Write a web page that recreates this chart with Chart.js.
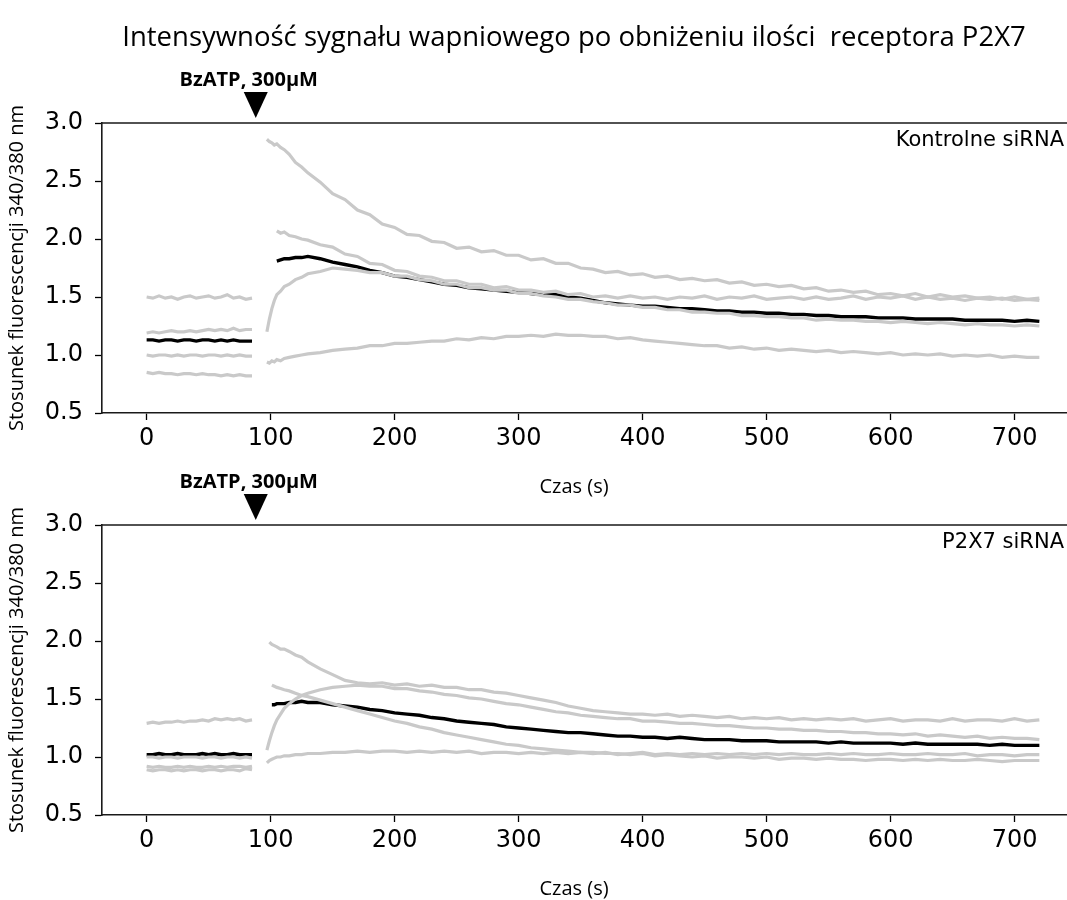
<!DOCTYPE html>
<html lang="pl">
  <head>
    <meta charset="UTF-8" />
    <title>Intensywność sygnału wapniowego</title>
    <style>
      html, body { margin: 0; padding: 0; background: #fff; overflow: hidden; }
      .wrap { position: relative; width: 1067px; height: 900px; overflow: hidden; }
      canvas { position: absolute; left: 0; }
      #top { top: 0; }
      #bottom { top: 400px; }
    </style>
    <script src="https://cdn.jsdelivr.net/npm/chart.js"></script>
    <script>
      // czas (s) - linia bazowa i odpowiedź po BzATP
      const BASE_T = [0, 5, 10, 15, 20, 25, 30, 35, 40, 45, 50, 55, 60, 65, 70, 75, 80, 85];
      const RESP_T = [97, 99, 101, 103, 105, 108, 111, 115, 120, 125,
        130, 140, 150, 160, 170, 180, 190, 200, 210, 220,
        230, 240, 250, 260, 270, 280, 290, 300, 310, 320,
        330, 340, 350, 360, 370, 380, 390, 400, 410, 420,
        430, 440, 450, 460, 470, 480, 490, 500, 510, 520,
        530, 540, 550, 560, 570, 580, 590, 600, 610, 620,
        630, 640, 650, 660, 670, 680, 690, 700, 710, 720];
      const ARROW_T = 88;
      const Y_TICKS = [0.5, 1.0, 1.5, 2.0, 2.5, 3.0];
      const X_TICKS = [0, 100, 200, 300, 400, 500, 600, 700];

      // Kontrolne siRNA
      const topBaseA = [1.50,1.49,1.51,1.49,1.50,1.48,1.50,1.51,1.49,1.50,1.51,1.49,1.50,1.52,1.49,1.50,1.48,1.49];
      const topBaseB = [1.19,1.20,1.19,1.20,1.21,1.20,1.20,1.21,1.20,1.21,1.22,1.21,1.22,1.21,1.23,1.21,1.22,1.22];
      const topBaseC = [1.00,0.99,1.00,1.00,0.99,1.00,0.99,1.00,1.00,0.99,1.00,1.00,0.99,1.00,0.99,1.00,0.99,0.99];
      const topBaseD = [0.85,0.84,0.85,0.84,0.84,0.83,0.84,0.84,0.83,0.84,0.83,0.83,0.82,0.83,0.82,0.83,0.82,0.82];
      const topBaseMean = [1.13,1.13,1.12,1.13,1.13,1.12,1.13,1.13,1.12,1.13,1.13,1.12,1.13,1.12,1.13,1.12,1.12,1.12];

      const topA = [2.86,2.84,2.83,2.81,2.82,2.79,2.77,2.73,2.66,2.62,
        2.57,2.49,2.39,2.34,2.25,2.21,2.13,2.10,2.04,2.03,
        1.98,1.97,1.92,1.93,1.89,1.90,1.86,1.86,1.82,1.83,
        1.79,1.79,1.75,1.74,1.71,1.72,1.69,1.70,1.67,1.68,
        1.65,1.66,1.64,1.65,1.62,1.63,1.60,1.61,1.59,1.60,
        1.57,1.58,1.55,1.56,1.54,1.55,1.52,1.53,1.51,1.53,
        1.50,1.52,1.50,1.51,1.49,1.50,1.48,1.50,1.48,1.49];
      const topB = [null,null,null,null,2.07,2.05,2.06,2.03,2.02,2.00,
        1.99,1.95,1.93,1.87,1.85,1.79,1.78,1.73,1.72,1.68,
        1.67,1.64,1.64,1.61,1.61,1.58,1.59,1.56,1.56,1.54,
        1.55,1.52,1.53,1.50,1.51,1.49,1.51,1.49,1.50,1.48,
        1.50,1.49,1.51,1.48,1.50,1.49,1.51,1.48,1.49,1.50,
        1.48,1.50,1.48,1.49,1.51,1.48,1.50,1.49,1.51,1.48,
        1.50,1.48,1.49,1.47,1.49,1.48,1.49,1.47,1.48,1.47];
      const topC = [1.20,1.31,1.40,1.47,1.52,1.55,1.59,1.61,1.65,1.67,
        1.70,1.72,1.75,1.74,1.73,1.71,1.71,1.68,1.68,1.65,
        1.64,1.61,1.61,1.58,1.58,1.56,1.56,1.53,1.53,1.51,
        1.50,1.48,1.48,1.46,1.45,1.43,1.43,1.41,1.41,1.39,
        1.39,1.37,1.37,1.36,1.36,1.34,1.34,1.33,1.33,1.32,
        1.32,1.30,1.31,1.30,1.30,1.29,1.29,1.28,1.29,1.28,
        1.27,1.28,1.27,1.26,1.27,1.26,1.26,1.25,1.26,1.25];
      const topD = [0.94,0.93,0.95,0.94,0.96,0.95,0.97,0.98,0.99,1.00,
        1.01,1.02,1.04,1.05,1.06,1.08,1.08,1.10,1.10,1.11,
        1.12,1.12,1.14,1.13,1.15,1.14,1.16,1.16,1.17,1.16,
        1.18,1.17,1.17,1.16,1.16,1.14,1.15,1.13,1.12,1.11,
        1.10,1.09,1.08,1.08,1.06,1.07,1.05,1.06,1.04,1.05,
        1.04,1.03,1.04,1.02,1.03,1.02,1.01,1.02,1.00,1.01,
        1.00,1.01,0.99,1.00,0.99,1.00,0.98,0.99,0.98,0.98];
      const topMean = [null,null,null,null,1.81,1.82,1.83,1.83,1.84,1.84,
        1.85,1.83,1.80,1.78,1.76,1.73,1.71,1.68,1.67,1.65,
        1.63,1.61,1.60,1.58,1.57,1.56,1.55,1.54,1.53,1.52,
        1.52,1.50,1.49,1.47,1.45,1.44,1.43,1.42,1.42,1.41,
        1.40,1.40,1.39,1.38,1.38,1.37,1.37,1.36,1.36,1.35,
        1.35,1.34,1.34,1.33,1.33,1.33,1.32,1.32,1.32,1.31,
        1.31,1.31,1.31,1.30,1.30,1.30,1.30,1.29,1.30,1.29];

      // P2X7 siRNA
      const botBaseA = [1.29,1.30,1.29,1.30,1.30,1.31,1.30,1.31,1.31,1.32,1.31,1.33,1.32,1.33,1.32,1.33,1.31,1.32];
      const botBaseB = [1.00,1.00,0.99,1.00,1.00,0.99,1.00,1.00,1.00,0.99,1.00,1.00,0.99,1.00,1.00,0.99,1.00,0.99];
      const botBaseC = [0.92,0.91,0.92,0.91,0.91,0.92,0.91,0.92,0.91,0.91,0.92,0.91,0.92,0.91,0.92,0.92,0.91,0.92];
      const botBaseD = [0.89,0.88,0.89,0.89,0.88,0.89,0.88,0.89,0.89,0.88,0.89,0.89,0.88,0.89,0.89,0.88,0.90,0.89];
      const botBaseMean = [1.02,1.02,1.03,1.02,1.02,1.03,1.02,1.02,1.02,1.03,1.02,1.03,1.02,1.02,1.03,1.02,1.02,1.02];

      const botA = [null,1.99,1.97,1.96,1.95,1.93,1.93,1.91,1.88,1.86,
        1.82,1.76,1.71,1.66,1.64,1.63,1.64,1.62,1.63,1.61,
        1.62,1.60,1.60,1.58,1.58,1.56,1.55,1.53,1.51,1.49,
        1.47,1.44,1.42,1.40,1.39,1.38,1.37,1.37,1.36,1.37,
        1.35,1.36,1.35,1.34,1.35,1.33,1.34,1.33,1.34,1.32,
        1.33,1.32,1.33,1.32,1.33,1.31,1.32,1.33,1.31,1.32,
        1.32,1.31,1.33,1.31,1.32,1.32,1.31,1.33,1.31,1.32];
      const botB = [null,null,1.62,1.61,1.60,1.59,1.58,1.57,1.55,1.53,
        1.52,1.49,1.46,1.43,1.40,1.37,1.34,1.31,1.29,1.26,
        1.24,1.21,1.19,1.17,1.15,1.13,1.11,1.10,1.08,1.07,
        1.06,1.05,1.04,1.04,1.03,1.03,1.02,1.03,1.01,1.02,
        1.01,1.00,1.01,0.99,1.00,1.00,0.99,1.00,0.98,0.99,
        0.99,0.98,0.99,0.98,0.98,0.97,0.98,0.98,0.97,0.98,
        0.97,0.98,0.97,0.97,0.98,0.97,0.96,0.97,0.97,0.97];
      const botC = [1.06,1.14,1.21,1.27,1.32,1.37,1.42,1.46,1.50,1.53,
        1.55,1.58,1.60,1.61,1.62,1.61,1.61,1.59,1.59,1.57,
        1.56,1.54,1.53,1.51,1.50,1.48,1.46,1.45,1.43,1.41,
        1.39,1.38,1.36,1.35,1.34,1.33,1.33,1.31,1.31,1.30,
        1.29,1.29,1.28,1.27,1.27,1.26,1.25,1.25,1.24,1.24,
        1.23,1.23,1.22,1.22,1.21,1.21,1.20,1.20,1.19,1.20,
        1.18,1.19,1.18,1.17,1.18,1.16,1.17,1.16,1.16,1.15];
      const botD = [0.95,0.97,0.98,0.99,1.00,1.00,1.01,1.01,1.02,1.02,
        1.03,1.03,1.04,1.04,1.05,1.04,1.05,1.05,1.04,1.05,
        1.04,1.05,1.04,1.05,1.03,1.04,1.04,1.03,1.04,1.03,
        1.04,1.03,1.04,1.03,1.04,1.02,1.03,1.04,1.02,1.03,
        1.02,1.03,1.02,1.03,1.02,1.03,1.02,1.03,1.02,1.03,
        1.02,1.02,1.03,1.02,1.03,1.02,1.02,1.03,1.02,1.02,
        1.03,1.02,1.02,1.03,1.01,1.02,1.02,1.01,1.02,1.02];
      const botMean = [null,null,1.45,1.45,1.46,1.46,1.46,1.47,1.47,1.48,
        1.47,1.47,1.45,1.44,1.43,1.41,1.40,1.38,1.37,1.36,
        1.34,1.33,1.31,1.30,1.29,1.28,1.26,1.25,1.24,1.23,
        1.22,1.21,1.21,1.20,1.19,1.18,1.18,1.17,1.17,1.16,
        1.17,1.16,1.15,1.15,1.15,1.14,1.14,1.14,1.13,1.13,
        1.13,1.13,1.12,1.13,1.12,1.12,1.12,1.12,1.11,1.12,
        1.11,1.11,1.11,1.11,1.11,1.10,1.11,1.10,1.10,1.10];

      const GRAY = "#c9c9c9";

      // linia bazowa + przerwa + odpowiedź
      const trace = (base, resp) => {
        const pts = BASE_T.map((t, i) => ({ x: t, y: base[i] }));
        pts.push({ x: 91, y: null });
        RESP_T.forEach((t, i) => pts.push({ x: t, y: resp[i] }));
        return pts;
      };

      const frame = {
        id: "frame",
        afterDraw(chart) {
          const { ctx, chartArea: a } = chart;
          ctx.save();
          ctx.strokeStyle = "#1a1a1a";
          ctx.lineWidth = 1.6;
          ctx.beginPath();
          ctx.moveTo(a.left, a.top);
          ctx.lineTo(a.right, a.top);
          ctx.lineTo(a.right, a.bottom);
          ctx.stroke();
          ctx.restore();
        },
      };

      const notes = {
        id: "notes",
        afterDraw(chart, args, opts) {
          const { ctx, chartArea: a } = chart;
          const x = chart.scales.x.getPixelForValue(ARROW_T);
          ctx.save();
          ctx.fillStyle = "#000";
          ctx.beginPath();
          ctx.moveTo(x - 12, a.top - 31);
          ctx.lineTo(x + 12, a.top - 31);
          ctx.lineTo(x, a.top - 5);
          ctx.closePath();
          ctx.fill();
          ctx.textAlign = "center";
          ctx.textBaseline = "middle";
          ctx.font = "bold 20px 'Open Sans'";
          ctx.fillText("BzATP, 300µM", x - 7, a.top - 43);
          // opis osi x
          ctx.font = "20px 'Open Sans'";
          ctx.fillText("Czas (s)", 574, a.bottom + 74);
          ctx.textAlign = "right";
          ctx.font = "21px 'DejaVu Sans'";
          ctx.fillText(opts.label, a.right - 20, a.top + 18);
          if (opts.title) {
            ctx.textAlign = "center";
            ctx.font = "27.5px 'Open Sans'";
            ctx.fillText(opts.title, 574, 38);
          }
          ctx.restore();
        },
      };

      const makeChart = (id, sets, label, padTop, xAxisH, title) => {
        const grays = sets.slice(0, 4).map((d) => ({
          data: d, borderColor: GRAY, borderWidth: 3.2, pointRadius: 0,
        }));
        const mean = { data: sets[4], borderColor: "#000", borderWidth: 3.4, pointRadius: 0 };
        return new Chart(document.getElementById(id), {
          type: "line",
          data: { datasets: [...grays, mean] },
          options: {
            responsive: false,
            animation: false,
            spanGaps: false,
            events: [],
            layout: { padding: { top: padTop, left: 0, right: 6, bottom: 0 } },
            plugins: {
              legend: { display: false },
              tooltip: { enabled: false },
              notes: { label: label, title: title },
            },
            scales: {
              x: {
                type: "linear",
                min: -36,
                max: 756,
                afterFit: (s) => { s.height = xAxisH; },
                afterBuildTicks: (s) => { s.ticks = X_TICKS.map((v) => ({ value: v })); },
                ticks: {
                  color: "#000",
                  padding: 4,
                  font: { family: "'DejaVu Sans'", size: 24 },
                  callback: (v) => String(v),
                },
                grid: { drawOnChartArea: false, tickLength: 7, color: "#000", tickWidth: 1.3 },
                border: { color: "#1a1a1a", width: 1.6 },
              },
              y: {
                min: 0.5,
                max: 3.0,
                afterFit: (s) => { s.width = 102; },
                afterBuildTicks: (s) => { s.ticks = Y_TICKS.map((v) => ({ value: v })); },
                ticks: {
                  color: "#000",
                  padding: 12,
                  font: { family: "'DejaVu Sans'", size: 24 },
                  callback: (v) => v.toFixed(1),
                },
                grid: { drawOnChartArea: false, tickLength: 7, color: "#000", tickWidth: 1.3 },
                border: { color: "#1a1a1a", width: 1.6 },
                title: {
                  display: true,
                  text: "Stosunek fluorescencji 340/380 nm",
                  color: "#000",
                  font: { family: "'Open Sans'", size: 20 },
                  padding: { top: 5, bottom: 0 },
                },
              },
            },
          },
          plugins: [frame, notes],
        });
      };

      window.addEventListener("DOMContentLoaded", () => {
        makeChart("top", [
          trace(topBaseA, topA), trace(topBaseB, topB), trace(topBaseC, topC),
          trace(topBaseD, topD), trace(topBaseMean, topMean),
        ], "Kontrolne siRNA", 123, 87,
          "Intensywność sygnału wapniowego po obniżeniu ilości  receptora P2X7");

        makeChart("bottom", [
          trace(botBaseA, botA), trace(botBaseB, botB), trace(botBaseC, botC),
          trace(botBaseD, botD), trace(botBaseMean, botMean),
        ], "P2X7 siRNA", 125, 85, null);
      });
    </script>
  </head>
  <body>
    <div class="wrap">
      <canvas id="top" width="1090" height="500"></canvas>
      <canvas id="bottom" width="1090" height="500"></canvas>
    </div>
  </body>
</html>
